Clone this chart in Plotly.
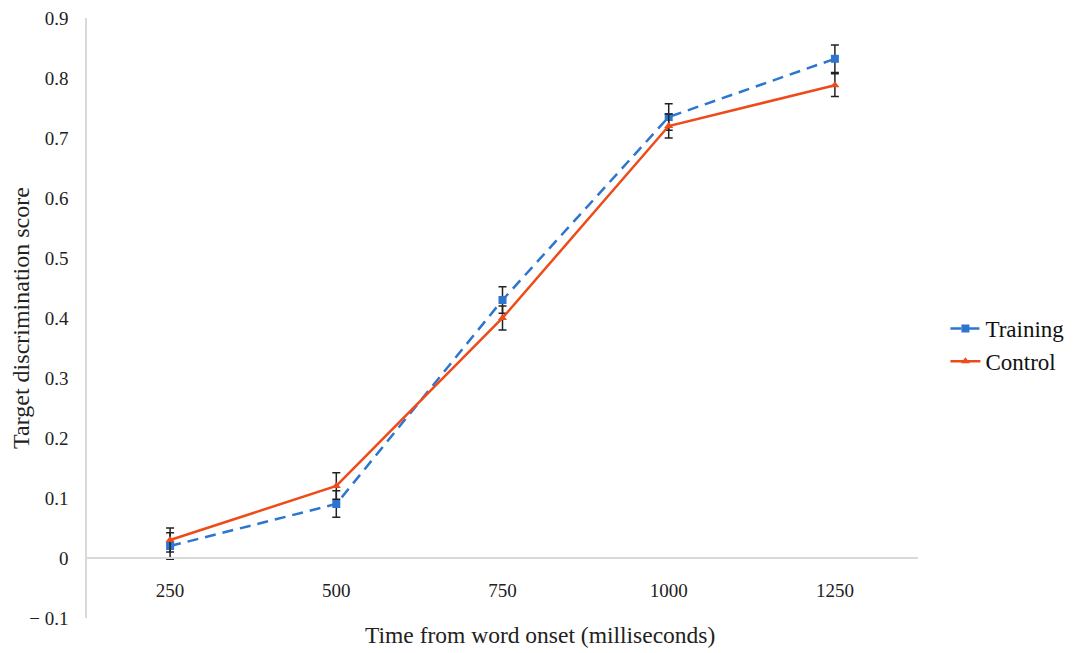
import plotly.graph_objects as go

categories = ["250", "500", "750", "1000", "1250"]
training = [0.02, 0.09, 0.43, 0.735, 0.832]
training_err = [0.022, 0.022, 0.022, 0.022, 0.023]
control = [0.03, 0.12, 0.40, 0.72, 0.788]
control_err = [0.02, 0.022, 0.02, 0.02, 0.019]

y_tickvals = [-0.1, 0, 0.1, 0.2, 0.3, 0.4, 0.5, 0.6, 0.7, 0.8, 0.9]
y_ticktext = ["\u2212 0.1", "0", "0.1", "0.2", "0.3", "0.4", "0.5", "0.6", "0.7", "0.8", "0.9"]

FONT = "Liberation Serif, Times New Roman, serif"
BLUE = "#2E75D0"
ORANGE = "#EE4B1A"

fig = go.Figure()
fig.add_trace(go.Scatter(
    x=categories, y=training, name="Training", mode="lines+markers",
    line=dict(color=BLUE, width=2.5, dash="11px,7px"),
    marker=dict(symbol="square", size=8, color=BLUE),
    error_y=dict(type="data", array=training_err, visible=True,
                 color="#222222", thickness=1.5, width=4),
))
fig.add_trace(go.Scatter(
    x=categories, y=control, name="Control", mode="lines+markers",
    line=dict(color=ORANGE, width=2.5),
    marker=dict(symbol="triangle-up", size=8, color=ORANGE),
    error_y=dict(type="data", array=control_err, visible=True,
                 color="#222222", thickness=1.5, width=4),
))

# page body has an 8px margin, so offsets are compensated
W, H = 1070, 645
T, L = 10, 79
B = H - 610
R = W - 910
PH = H - T - B
PW = W - L - R
fig.update_layout(
    width=W, height=H,
    margin=dict(l=L, r=R, t=T, b=B, autoexpand=False),
    paper_bgcolor="white", plot_bgcolor="white",
    font=dict(family=FONT, color="#222222"),
    showlegend=True,
    legend=dict(x=1.033, y=0.455, xanchor="left", yanchor="middle",
                font=dict(family=FONT, size=23, color="#111111"),
                bgcolor="rgba(0,0,0,0)", tracegroupgap=9,
                traceorder="normal"),
    xaxis=dict(
        type="category", range=[-0.5, 4.5], automargin=False,
        anchor="free", position=(618 - 558) / PH,
        showline=True, linecolor="#D9D9D9", linewidth=1.5,
        showgrid=False, ticks="", zeroline=False,
        tickfont=dict(family=FONT, size=19, color="#222222"),
        ticklabelstandoff=15, ticklabeloverflow="allow",
    ),
    yaxis=dict(
        range=[-0.1, 0.9], tickvals=y_tickvals, ticktext=y_ticktext,
        automargin=False,
        showline=True, linecolor="#D9D9D9", linewidth=1.5,
        showgrid=False, zeroline=False, ticks="",
        tickfont=dict(family=FONT, size=19, color="#222222"),
        ticklabelstandoff=13, ticklabeloverflow="allow",
        title=dict(text="Target discrimination score",
                   font=dict(family=FONT, size=24, color="#222222"),
                   standoff=0),
    ),
    annotations=[dict(
        text="Time from word onset (milliseconds)", xref="paper", yref="paper",
        x=(540 - 87) / PW, y=-(635 - 618) / PH,
        xanchor="center", yanchor="middle", showarrow=False,
        font=dict(family=FONT, size=23.5, color="#222222"),
    )],
)

fig.write_html("out.html")
